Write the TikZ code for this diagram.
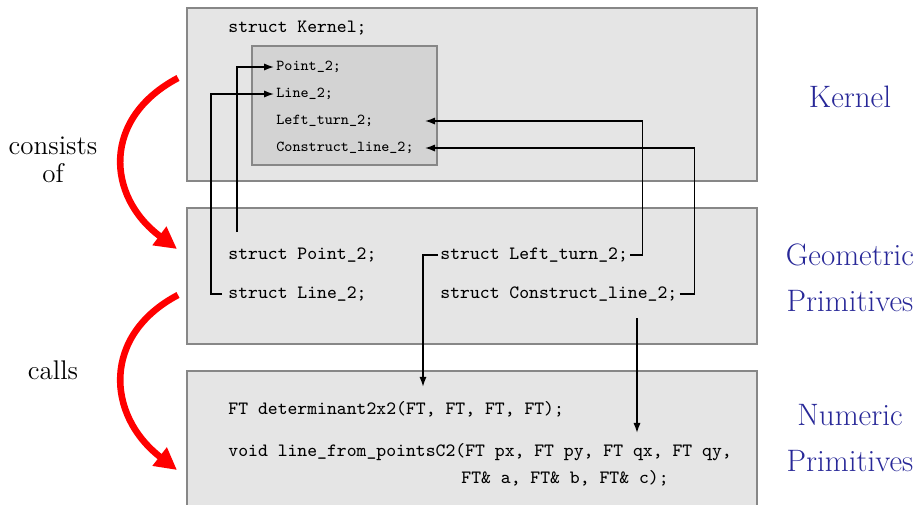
\documentclass[tikz,border=0pt]{standalone}
\usepackage{fontspec}
\usepackage{tikz}
\usetikzlibrary{calc, arrows.meta, positioning}
\definecolor{boxgray}{RGB}{229,229,229}
\definecolor{innergray}{RGB}{211,211,211}
\definecolor{framegray}{RGB}{135,135,135}
\definecolor{labelblue}{RGB}{40,40,152}

\begin{document}
\begin{tikzpicture}[x=0.5pt,y=-0.5pt,
    layer/.style={draw=framegray,fill=boxgray,line width=0.6pt},
    inner/.style={draw=framegray,fill=innergray,line width=0.6pt},
    code/.style={font=\fontsize{9.4}{12}\selectfont\ttfamily,anchor=west,inner ysep=0pt,inner xsep=1pt},
    smallcode/.style={code,font=\fontsize{7.6}{10}\selectfont\ttfamily},
    link/.style={-{Latex[length=5pt,width=3.6pt]},line width=0.7pt},
    bigarrow/.style={-{Triangle[length=11pt,width=11pt]},red,line width=3.3pt},
    level/.style={font=\fontsize{15.5}{23}\selectfont,text=labelblue,align=center},
    verb/.style={font=\fontsize{13.5}{14}\selectfont,align=center}]
    \useasboundingbox (0,0) rectangle (921,504);

      % the three layers
      \path[layer] (187,8) rectangle (757,181);
      \path[inner] (252,46) rectangle (437,165);
      \path[layer] (187,208) rectangle (757,344);
      \path[layer] (187,371) rectangle (757,520);
      \coordinate (k_tip) at (425,0);

      \node[code]      (k_title) at (226,28)  {struct Kernel;};
      \node[smallcode] (k_point) at (274,67)  {Point\_2;};
      \node[smallcode] (k_line)  at (274,94)  {Line\_2;};
      \node[smallcode] (k_left)  at (274,121) {Left\_turn\_2;};
      \node[smallcode] (k_cons)  at (274,148) {Construct\_line\_2;};

      \node[code] (g_point) at (226,255) {struct Point\_2;};
      \node[code] (g_line)  at (226,294) {struct Line\_2;};
      \node[code] (g_left)  at (438,255) {struct Left\_turn\_2;};
      \node[code] (g_cons)  at (438,294) {struct Construct\_line\_2;};

      \node[code] (n_det)   at (226,409) {FT determinant2x2(FT, FT, FT, FT);};
      \node[code] (n_line)  at (226,452) {void line\_from\_pointsC2(FT px, FT py, FT qx, FT qy,};
      \node[code] (n_line2) at (459,478) {FT\& a, FT\& b, FT\& c);};

      % labels
      \node[level] (kernel)   at (850,97)  {Kernel};
      \node[level] (geometric) at (850,278) {Geometric\\Primitives};
      \node[level] (numeric)  at (850,438) {Numeric\\Primitives};
      \node[verb]  (consists) at (53,160)  {consists\\of};
      \node[verb]  (calls)    at (53,370)  {calls};

      \draw[bigarrow] (178,78) .. controls (102,118) and (106,196) .. (177,249);
      \draw[bigarrow] (178,295) .. controls (102,335) and (106,415) .. (177,470);

      % connectors
      \draw[link] ($(g_point.west)+(11,-23)$) |- (k_point.west);
      \draw[link] ($(g_line.west)+(-4,0)$) -- ++(-11,0) |- (k_line.west);
      \draw[link] (g_left.east) -- ++(12,0) |- (k_left.east -| k_tip);
      \draw[link] (g_cons.east) -- ++(15,0) |- (k_cons.east -| k_tip);
      \draw[link] (g_left.west) -- ++(-15,0) coordinate (t_det) -- ($(t_det |- n_det.north)+(0,-14)$);
      \draw[link] ($(g_cons.west)+(199,24)$) coordinate (t_line) -- ($(t_line |- n_line.north)+(0,-10)$);
    \end{tikzpicture}
\end{document}
